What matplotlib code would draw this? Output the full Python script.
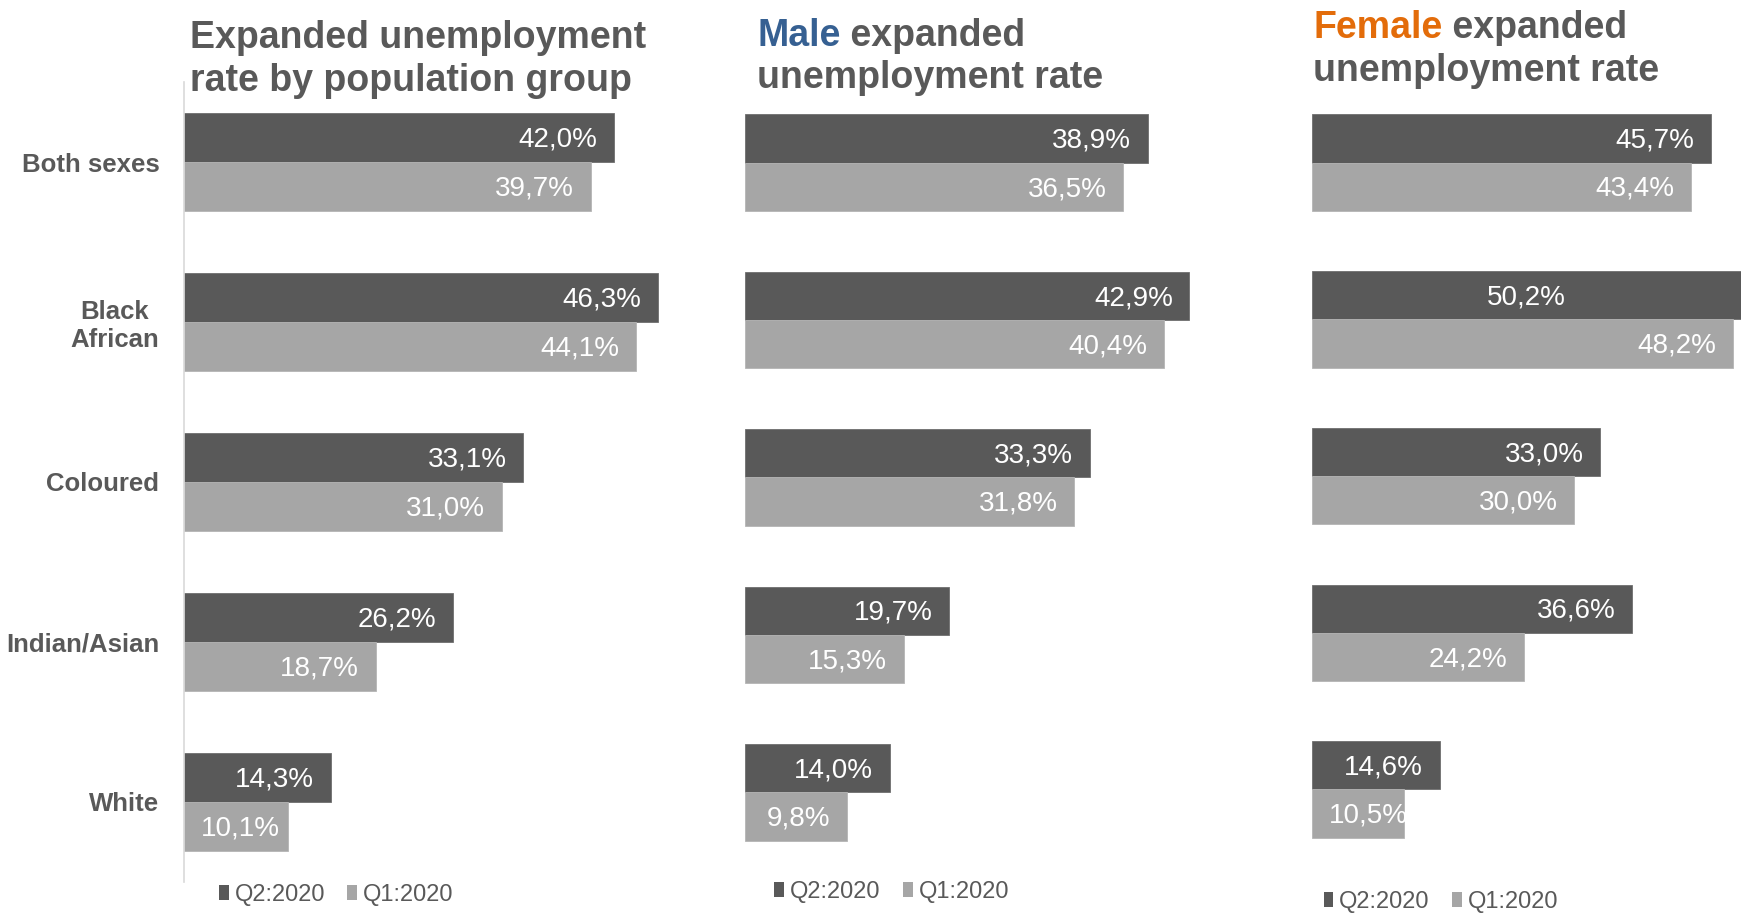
import matplotlib
matplotlib.use('Agg')
import numpy as np
import matplotlib.pyplot as plt
from matplotlib.patches import Patch

# ---------------- data ----------------
categories = ['Both sexes', 'Black\nAfrican', 'Coloured', 'Indian/Asian', 'White']
series_labels = ['Q2:2020', 'Q1:2020']
total_q2 = [42.0, 46.3, 33.1, 26.2, 14.3]
total_q1 = [39.7, 44.1, 31.0, 18.7, 10.1]
male_q2 = [38.9, 42.9, 33.3, 19.7, 14.0]
male_q1 = [36.5, 40.4, 31.8, 15.3, 9.8]
female_q2 = [45.7, 50.2, 33.0, 36.6, 14.6]
female_q1 = [43.4, 48.2, 30.0, 24.2, 10.5]

DARK = '#595959'
LIGHT = '#A6A6A6'
TXT = '#595959'
BLUE = '#366092'
ORANGE = '#E36C0A'

plt.rcParams['font.family'] = ['Liberation Sans', 'DejaVu Sans']

W, H = 1741, 913
fig = plt.figure(figsize=(W / 100, H / 100), dpi=100)


def rect(left_px, top_px, width_px, height_px):
    return [left_px / W, 1 - (top_px + height_px) / H, width_px / W, height_px / H]


panels = [
    dict(q2=total_q2, q1=total_q1, rect=rect(184.3, 82.1, 512, 799.5), bh=0.306, first=True),
    dict(q2=male_q2, q1=male_q1, rect=rect(745, 84.0, 518, 787), bh=0.307, first=False),
    dict(q2=female_q2, q1=female_q1, rect=rect(1312.4, 84.3, 436.5, 783.5), bh=0.3076, first=False),
]

PAD_PT = 12
DY_PT = -1.6
fmt = lambda v: f"{v:.1f}".replace('.', ',') + '%'

for p in panels:
    ax = fig.add_axes(p['rect'])
    y = np.arange(len(categories))
    bh = p['bh']
    ax.barh(y - bh / 2, p['q2'], height=bh, color=DARK, edgecolor='#6f6f6f', linewidth=0.6)
    ax.barh(y + bh / 2, p['q1'], height=bh, color=LIGHT, edgecolor='#b5b5b5', linewidth=0.6)
    ax.set_xlim(0, 50)
    ax.set_ylim(len(categories) - 0.5, -0.5)
    ax.set_xticks([])
    for s in ['top', 'right', 'bottom']:
        ax.spines[s].set_visible(False)
    if p['first']:
        ax.spines['left'].set_color('#D9D9D9')
        ax.spines['left'].set_linewidth(1.2)
        ax.set_yticks(y)
        ax.set_yticklabels(categories, fontsize=18.5, fontweight='bold', color=TXT)
        for lbl in ax.get_yticklabels():
            lbl.set_multialignment('center')
        ax.tick_params(axis='y', length=0, pad=18)
    else:
        ax.spines['left'].set_visible(False)
        ax.set_yticks([])
    p['ax'] = ax

fig.canvas.draw()
renderer = fig.canvas.get_renderer()
pad_px = PAD_PT * 100 / 72

for p in panels:
    ax = p['ax']
    bh = p['bh']
    for vals, off in ((p['q2'], -bh / 2), (p['q1'], bh / 2)):
        for i, v in enumerate(vals):
            yy = i + off
            left_px = ax.transData.transform((0, yy))[0]
            end_px = ax.transData.transform((v, yy))[0]
            if end_px > W:
                xc = ax.transData.inverted().transform(((left_px + W) / 2, 0))[0]
                ax.annotate(fmt(v), xy=(xc, yy), xytext=(0, DY_PT), textcoords='offset points',
                            ha='center', va='center', color='white', fontsize=20)
                continue
            t = ax.annotate(fmt(v), xy=(v, yy), xytext=(-PAD_PT, DY_PT), textcoords='offset points',
                            ha='right', va='center', color='white', fontsize=20,
                            annotation_clip=False)
            bb = t.get_window_extent(renderer)
            if bb.x0 < left_px + pad_px:
                t.remove()
                ax.annotate(fmt(v), xy=(0, yy), xytext=(PAD_PT, DY_PT), textcoords='offset points',
                            ha='left', va='center', color='white', fontsize=20,
                            annotation_clip=False)

# ---------------- titles ----------------
TFS = 27
fig.text(189.5 / W, 1 - 47.7 / H, 'Expanded unemployment', fontsize=TFS, fontweight='bold',
         color=TXT, va='baseline')
fig.text(189.5 / W, 1 - 91 / H, 'rate by population group', fontsize=TFS, fontweight='bold',
         color=TXT, va='baseline')

t = fig.text(757 / W, 1 - 45.5 / H, 'Male', fontsize=TFS, fontweight='bold', color=BLUE,
             va='baseline')
fig.canvas.draw()
bb = t.get_window_extent(fig.canvas.get_renderer())
fig.text(bb.x1 / W, 1 - 45.5 / H, ' expanded', fontsize=TFS, fontweight='bold', color=TXT,
         va='baseline')
fig.text(757 / W, 1 - 87.7 / H, 'unemployment rate', fontsize=TFS, fontweight='bold', color=TXT,
         va='baseline')

t = fig.text(1313 / W, 1 - 37.7 / H, 'Female', fontsize=TFS, fontweight='bold', color=ORANGE,
             va='baseline')
fig.canvas.draw()
bb = t.get_window_extent(fig.canvas.get_renderer())
fig.text(bb.x1 / W, 1 - 37.7 / H, ' expanded', fontsize=TFS, fontweight='bold', color=TXT,
         va='baseline')
fig.text(1313 / W, 1 - 81 / H, 'unemployment rate', fontsize=TFS, fontweight='bold', color=TXT,
         va='baseline')

# ---------------- legends ----------------
handles = [Patch(facecolor=DARK), Patch(facecolor=LIGHT)]
for lx, ly in ((218.7, 895.0), (773.9, 891.5), (1323.5, 901.5)):
    fig.legend(handles, series_labels, loc='center left', bbox_to_anchor=(lx / W, 1 - ly / H),
               bbox_transform=fig.transFigure, ncol=2, frameon=False, fontsize=17,
               handlelength=0.42, handleheight=0.6, handletextpad=0.25, columnspacing=0.95,
               borderpad=0, borderaxespad=0, labelcolor=TXT)

fig.savefig('out.png', dpi=100)
